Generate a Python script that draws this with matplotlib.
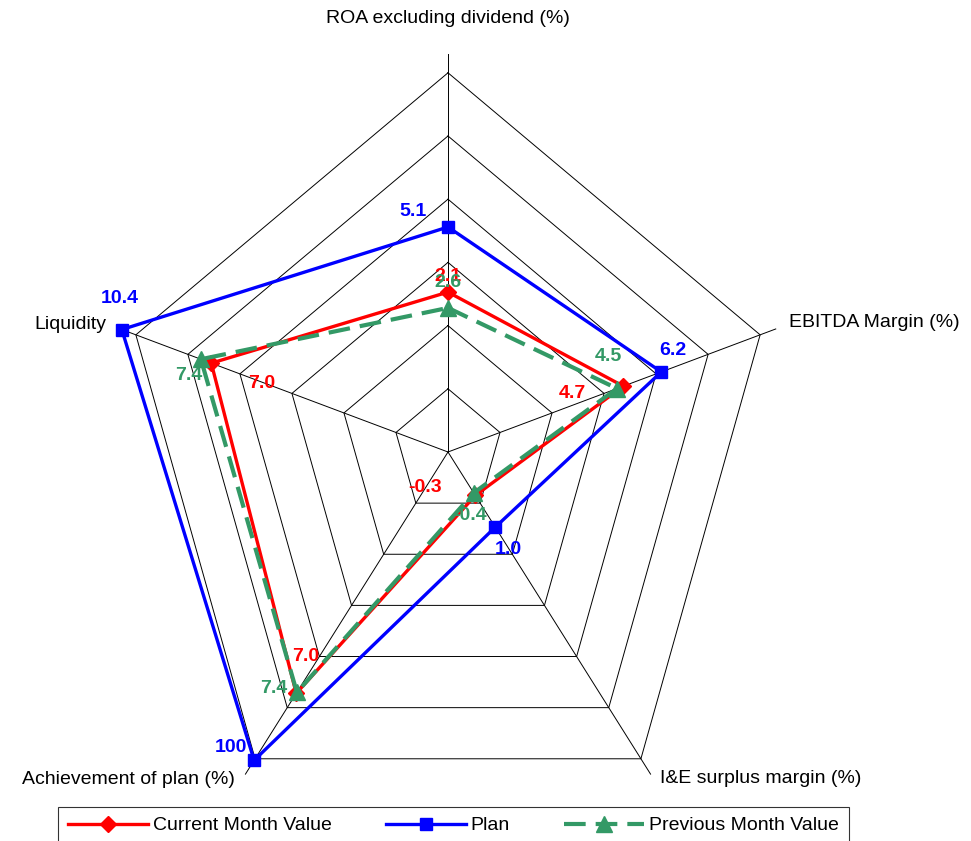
import matplotlib
matplotlib.use('Agg')
import matplotlib.pyplot as plt
import numpy as np

# axes of the radar, clockwise from the top
categories = ['ROA excluding dividend (%)', 'EBITDA Margin (%)', 'I&E surplus margin (%)',
              'Achievement of plan (%)', 'Liquidity']

# plotted scores (0..6 rings) and the values printed next to each point
current_score = [2.53, 3.37, 0.85, 4.72, 4.55]
plan_score = [3.56, 4.10, 1.47, 6.03, 6.27]
previous_score = [2.28, 3.25, 0.80, 4.70, 4.75]

current_labels = ['2.1', '4.7', '-0.3', '7.0', '7.0']
plan_labels = ['5.1', '6.2', '1.0', '100', '10.4']
previous_labels = ['2.6', '4.5', '-0.4', '7.4', '7.4']

rings = [1, 2, 3, 4, 5, 6]

plt.rcParams['font.family'] = ['Liberation Sans', 'DejaVu Sans']

fig = plt.figure(figsize=(9.71, 8.41), dpi=100)
ax = fig.add_axes([0, 0, 1, 1])
ax.axis('off')
# the picture is squashed sideways, so keep the axes un-equal on purpose
ax.set_xlim(-448 / 54.7, (971 - 448) / 54.7)
ax.set_ylim(-(841 - 452) / 63.2, 452 / 63.2)

n = len(categories)
theta = np.arange(n) * 2 * np.pi / n


def xy(r):
    r = np.asarray(r, dtype=float)
    return r * np.sin(theta), r * np.cos(theta)


# grid rings and spokes
for r in rings:
    gx, gy = xy([r] * n)
    ax.plot(np.append(gx, gx[0]), np.append(gy, gy[0]), color='black', lw=0.7, zorder=1)
for t in theta:
    ax.plot([0, 6.3 * np.sin(t)], [0, 6.3 * np.cos(t)], color='black', lw=0.7, zorder=1)

# category names
vx, vy = xy([6] * n)
cat_offsets = [(0, 54, 'center'), (29, 12, 'left'), (19, -20, 'left'), (-20, -21, 'right'), (-29, 10, 'right')]
for i, name in enumerate(categories):
    dx, dy, ha = cat_offsets[i]
    ax.annotate(name, (vx[i], vy[i]), xytext=(dx, dy), textcoords='offset pixels',
                ha=ha, va='center', fontsize=14, color='black')

series = [
    ('Current Month Value', current_score, current_labels, '#FF0000', '-', 'D', 8.5,
     [(0, 16), (-51, -7), (-50, 8), (9, 37), (50, -20)]),
    ('Plan', plan_score, plan_labels, '#0000FF', '-', 's', 8.5,
     [(-35, 16), (12, 21), (13, -22), (-23, 13), (-2, 31)]),
    ('Previous Month Value', previous_score, previous_labels, '#339966', '--', '^', 11,
     [(0, 25), (-9, 32), (-4, -23), (-23, 4), (-12, -16)]),
]

for k, (name, score, labels, color, ls, marker, ms, offs) in enumerate(series):
    px, py = xy(score)
    line, = ax.plot(np.append(px, px[0]), np.append(py, py[0]), color=color, lw=2.4 if ls == '-' else 3,
                    ls=ls, marker=marker, markersize=ms, markevery=list(range(n)), label=name,
                    zorder=3 + k)
    if ls == '--':
        line.set_dashes((5.2, 2.4))
    for i, txt in enumerate(labels):
        ax.annotate(txt, (px[i], py[i]), xytext=offs[i], textcoords='offset pixels',
                    ha='center', va='center', fontsize=14, fontweight='bold', color=color,
                    zorder=10 + k)

leg = ax.legend(loc='upper center', bbox_to_anchor=(453.5 / 971, 1 - 807 / 841),
                ncol=3, fontsize=14, frameon=True, fancybox=False,
                handlelength=4.1, borderpad=0.5, handletextpad=0.25, columnspacing=2.8,
                borderaxespad=0)
leg.get_frame().set_edgecolor('black')
leg.get_frame().set_linewidth(0.8)

fig.savefig('out.png', dpi=100)
